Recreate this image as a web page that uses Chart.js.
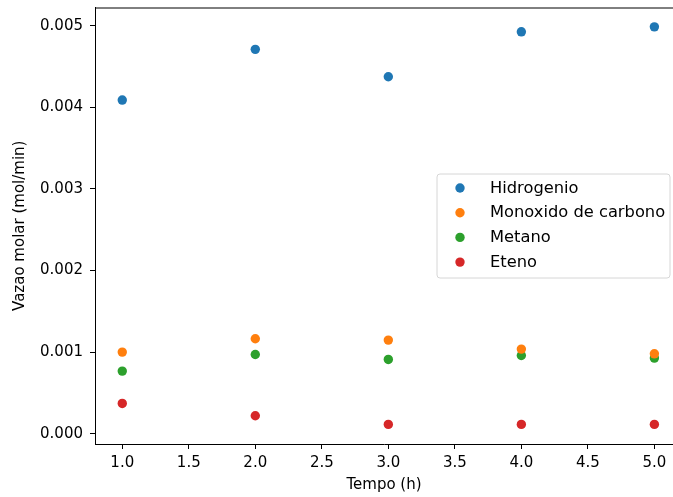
<!DOCTYPE html>
<html>
<head>
<meta charset="utf-8">
<script src="https://cdn.jsdelivr.net/npm/chart.js@4/dist/chart.umd.min.js"></script>
<style>
html,body{margin:0;padding:0;background:#fff;overflow:hidden;}
#wrap{width:673px;height:497px;position:relative;}
</style>
</head>
<body>
<div id="wrap"><canvas id="c"></canvas></div>
<script>
const tempos = [1.0, 2.0, 3.0, 4.0, 5.0];
const hidrogenio = [0.004088, 0.004709, 0.004373, 0.004924, 0.004985];
const monoxido = [0.001000, 0.001163, 0.001147, 0.001037, 0.000979];
const metano = [0.000767, 0.000971, 0.000910, 0.000958, 0.000927];
const eteno = [0.000371, 0.000220, 0.000114, 0.000114, 0.000114];
const seriesNames = ['Hidrogenio', 'Monoxido de carbono', 'Metano', 'Eteno'];
const seriesColors = ['#1f77b4', '#ff7f0e', '#2ca02c', '#d62728'];
const xTicks = [1.0, 1.5, 2.0, 2.5, 3.0, 3.5, 4.0, 4.5, 5.0];
const xTickLabels = ['1.0', '1.5', '2.0', '2.5', '3.0', '3.5', '4.0', '4.5', '5.0'];
const yTicks = [0.000, 0.001, 0.002, 0.003, 0.004, 0.005];
const yTickLabels = ['0.000', '0.001', '0.002', '0.003', '0.004', '0.005'];
const xTitle = 'Tempo (h)';
const yTitle = 'Vazao molar (mol/min)';

const FONT = 'DejaVu Sans';
const FS = 15;
const LFS = 16.3;
const allSeries = [hidrogenio, monoxido, metano, eteno];

const datasets = allSeries.map((vals, i) => ({
  label: seriesNames[i],
  data: tempos.map((t, j) => ({x: t, y: vals[j]})),
  backgroundColor: seriesColors[i],
  borderColor: seriesColors[i],
  borderWidth: 0,
  pointRadius: 4.7,
  pointHoverRadius: 4.7
}));

const frameAndLegend = {
  id: 'frameAndLegend',
  afterDatasetsDraw(chart) {
    const ctx = chart.ctx;
    const a = chart.chartArea;
    ctx.save();
    // top spine
    ctx.strokeStyle = '#000';
    ctx.lineWidth = 1;
    ctx.beginPath();
    ctx.moveTo(a.left, a.top + 0.5);
    ctx.lineTo(a.right, a.top + 0.5);
    ctx.stroke();
    // legend
    const bx = 437, by = 174, bw = 233, bh = 104, r = 3;
    ctx.beginPath();
    ctx.moveTo(bx + r, by);
    ctx.lineTo(bx + bw - r, by);
    ctx.quadraticCurveTo(bx + bw, by, bx + bw, by + r);
    ctx.lineTo(bx + bw, by + bh - r);
    ctx.quadraticCurveTo(bx + bw, by + bh, bx + bw - r, by + bh);
    ctx.lineTo(bx + r, by + bh);
    ctx.quadraticCurveTo(bx, by + bh, bx, by + bh - r);
    ctx.lineTo(bx, by + r);
    ctx.quadraticCurveTo(bx, by, bx + r, by);
    ctx.closePath();
    ctx.fillStyle = 'rgba(255,255,255,0.8)';
    ctx.fill();
    ctx.strokeStyle = '#d6d6d6';
    ctx.lineWidth = 1;
    ctx.stroke();
    ctx.font = LFS + 'px "' + FONT + '"';
    ctx.textBaseline = 'middle';
    ctx.textAlign = 'left';
    chart.data.datasets.forEach((ds, i) => {
      const yy = 188 + i * 24.7;
      ctx.fillStyle = ds.backgroundColor;
      ctx.beginPath();
      ctx.arc(460, yy, 4.7, 0, Math.PI * 2);
      ctx.fill();
      ctx.fillStyle = '#000';
      ctx.fillText(ds.label, 490, yy + 0.5);
    });
    ctx.restore();
  }
};

new Chart(document.getElementById('c'), {
  type: 'scatter',
  data: {datasets},
  options: {
    responsive: true,
    maintainAspectRatio: false,
    animation: false,
    events: [],
    layout: {autoPadding: false, padding: {top: 7.5, right: 0, left: 0, bottom: 0}},
    plugins: {legend: {display: false}, tooltip: {enabled: false}},
    scales: {
      x: {
        type: 'linear',
        min: 0.795,
        max: 5.14,
        afterBuildTicks: (s) => { s.ticks = xTicks.map(v => ({value: v})); },
        afterFit: (s) => { s.height = 53; s.paddingLeft = 0; s.paddingRight = 0; },
        ticks: {
          autoSkip: false,
          maxRotation: 0,
          padding: 5,
          color: '#000',
          font: {family: FONT, size: FS},
          callback: (v) => { const k = xTicks.indexOf(v); return k >= 0 ? xTickLabels[k] : ''; }
        },
        grid: {display: true, drawOnChartArea: false, drawTicks: true, tickLength: 5, tickColor: '#000', tickWidth: 1},
        border: {display: true, color: '#000', width: 1},
        title: {display: true, text: xTitle, color: '#000', font: {family: FONT, size: FS}, padding: {top: 0, bottom: 3}}
      },
      y: {
        type: 'linear',
        min: -0.000126,
        max: 0.005222,
        afterBuildTicks: (s) => { s.ticks = yTicks.map(v => ({value: v})); },
        afterFit: (s) => { s.width = 95; s.paddingTop = 0; s.paddingBottom = 0; },
        ticks: {
          autoSkip: false,
          padding: 7,
          color: '#000',
          font: {family: FONT, size: FS},
          callback: (v) => { const k = yTicks.indexOf(v); return k >= 0 ? yTickLabels[k] : ''; }
        },
        grid: {display: true, drawOnChartArea: false, drawTicks: true, tickLength: 5, tickColor: '#000', tickWidth: 1},
        border: {display: true, color: '#000', width: 1},
        title: {display: true, text: yTitle, color: '#000', font: {family: FONT, size: FS}, padding: {top: 11, bottom: 0}}
      }
    }
  },
  plugins: [frameAndLegend]
});
</script>
</body>
</html>
